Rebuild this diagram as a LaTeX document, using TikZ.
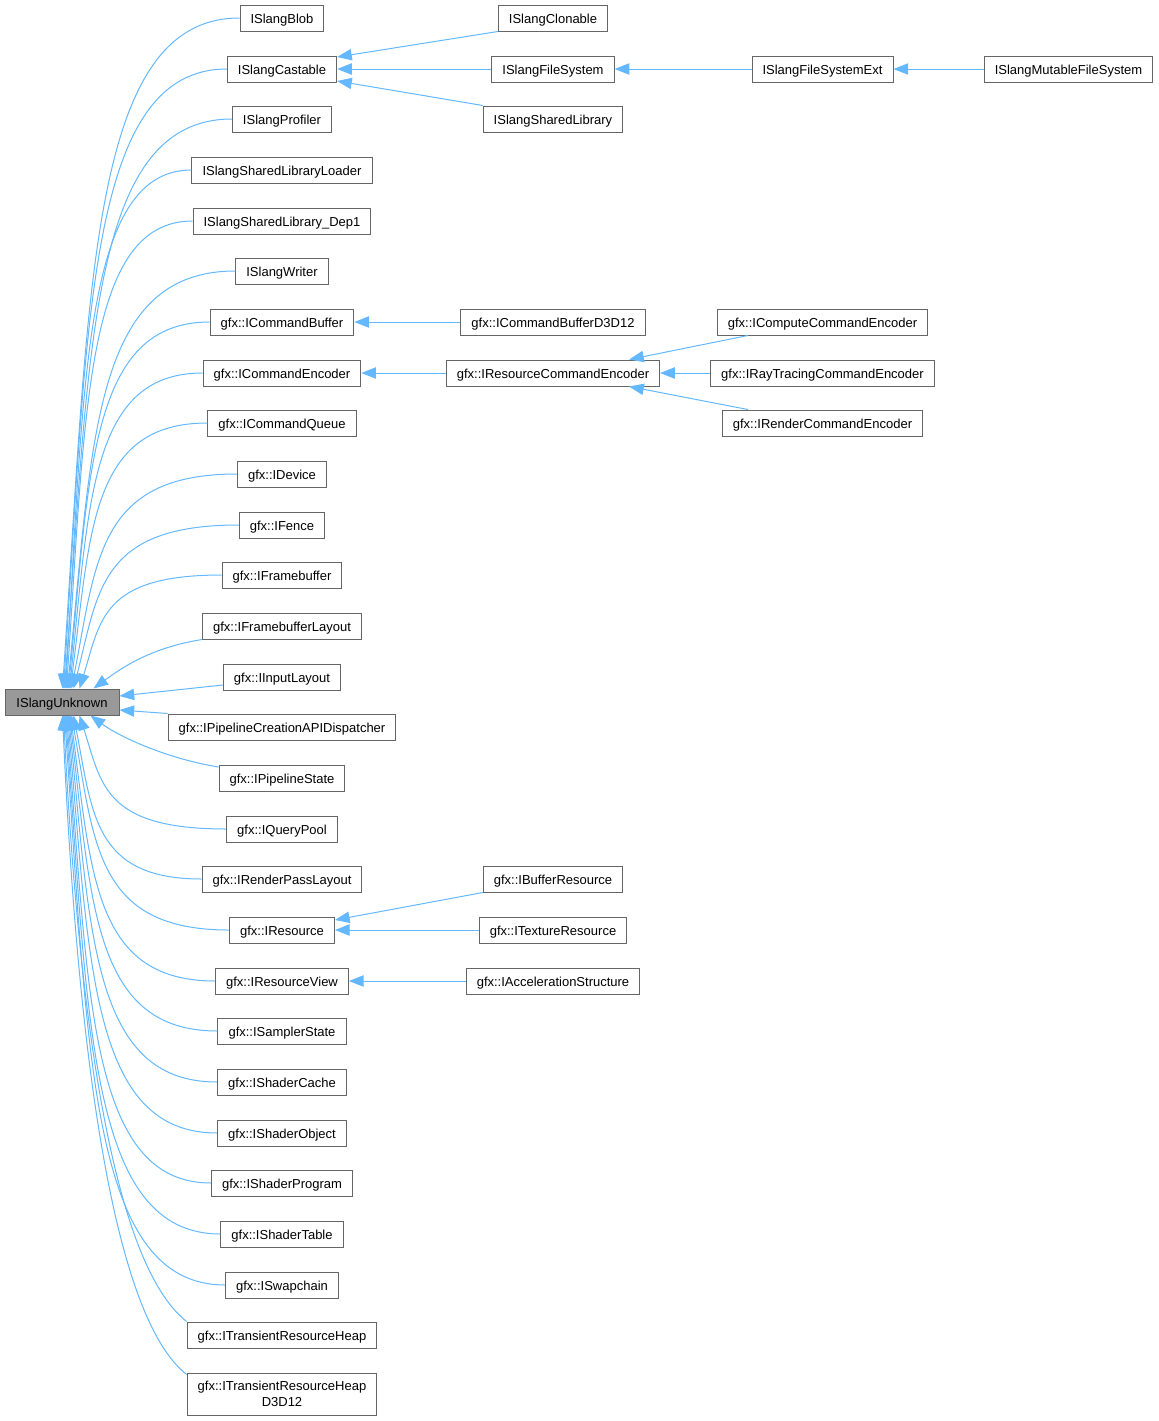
\documentclass[tikz,border=0pt]{standalone}
\usepackage{fontspec}
\setmainfont{Liberation Sans}
\usetikzlibrary{arrows.meta,calc}
\definecolor{edgeblue}{HTML}{63B8FF}
\definecolor{boxborder}{HTML}{666666}
\definecolor{basefill}{HTML}{999999}
\begin{document}
\begin{tikzpicture}[x=0.75pt,y=-0.75pt,
  cls/.style={draw=boxborder,line width=0.75pt,fill=white,minimum height=19.5pt,
    inner xsep=7.9pt,inner ysep=2pt,text height=9pt,text depth=1pt,
    font=\fontsize{9.75pt}{12pt}\selectfont,text=black},
  twoline/.style={cls,align=center,minimum height=31.5pt,text height=,text depth=},
  basecls/.style={cls,fill=basefill,minimum width=85.5pt},
  edge/.style={draw=edgeblue,line width=0.75pt,
    -{Triangle[length=11pt,width=8.5pt,fill=edgeblue]}}]
\useasboundingbox (0,0) rectangle (1159,1421);

% base
\node[basecls] (u) at (62,702) {ISlangUnknown};

% left column
\node[cls] (blob)    at (282,18)   {ISlangBlob};
\node[cls] (cast)    at (282,69)   {ISlangCastable};
\node[cls] (prof)    at (282,119)  {ISlangProfiler};
\node[cls] (loader)  at (282,170)  {ISlangSharedLibraryLoader};
\node[cls] (dep1)    at (282,221)  {ISlangSharedLibrary\_Dep1};
\node[cls] (writer)  at (282,271)  {ISlangWriter};
\node[cls] (cmdbuf)  at (282,322)  {gfx::ICommandBuffer};
\node[cls] (cmdenc)  at (282,373)  {gfx::ICommandEncoder};
\node[cls] (cmdq)    at (282,423)  {gfx::ICommandQueue};
\node[cls] (device)  at (282,474)  {gfx::IDevice};
\node[cls] (fence)   at (282,525)  {gfx::IFence};
\node[cls] (fb)      at (282,575)  {gfx::IFramebuffer};
\node[cls] (fbl)     at (282,626)  {gfx::IFramebufferLayout};
\node[cls] (input)   at (282,677)  {gfx::IInputLayout};
\node[cls] (pcreate) at (282,727)  {gfx::IPipelineCreationAPIDispatcher};
\node[cls] (pstate)  at (282,778)  {gfx::IPipelineState};
\node[cls] (qpool)   at (282,829)  {gfx::IQueryPool};
\node[cls] (rpl)     at (282,879)  {gfx::IRenderPassLayout};
\node[cls] (res)     at (282,930)  {gfx::IResource};
\node[cls] (resview) at (282,981)  {gfx::IResourceView};
\node[cls] (sampler) at (282,1031) {gfx::ISamplerState};
\node[cls] (shcache) at (282,1082) {gfx::IShaderCache};
\node[cls] (shobj)   at (282,1133) {gfx::IShaderObject};
\node[cls] (shprog)  at (282,1183) {gfx::IShaderProgram};
\node[cls] (shtable) at (282,1234) {gfx::IShaderTable};
\node[cls] (swap)    at (282,1285) {gfx::ISwapchain};
\node[cls] (trh)     at (282,1335) {gfx::ITransientResourceHeap};
\node[twoline] (trh12) at (282,1394)
  {gfx::ITransientResourceHeap\\D3D12};

% middle column
\node[cls] (clon)    at (553,18)  {ISlangClonable};
\node[cls] (fs)      at (553,69)  {ISlangFileSystem};
\node[cls] (shlib)   at (553,119) {ISlangSharedLibrary};
\node[cls] (cbd12)   at (553,322) {gfx::ICommandBufferD3D12};
\node[cls] (rce)     at (553,373) {gfx::IResourceCommandEncoder};
\node[cls] (bufres)  at (553,879) {gfx::IBufferResource};
\node[cls] (texres)  at (553,930) {gfx::ITextureResource};
\node[cls] (accel)   at (553,981) {gfx::IAccelerationStructure};

% right columns
\node[cls] (fsext)   at (822.5,69)  {ISlangFileSystemExt};
\node[cls] (compute) at (822.5,322) {gfx::IComputeCommandEncoder};
\node[cls] (raytr)   at (822.5,373) {gfx::IRayTracingCommandEncoder};
\node[cls] (render)  at (822.5,423) {gfx::IRenderCommandEncoder};
\node[cls] (mfs)     at (1068.5,69) {ISlangMutableFileSystem};

% edges to ISlangUnknown (from above)
\draw[edge] (blob.west)    .. controls +(-150,0) and +(27,-403) .. ($(u.north west)+(58,0)$);
\draw[edge] (cast.west)    .. controls +(-139,0) and +(24,-372) .. ($(u.north west)+(59,0)$);
\draw[edge] (prof.west)    .. controls +(-142,0) and +(25,-342) .. ($(u.north west)+(60,0)$);
\draw[edge] (loader.west)  .. controls +(-108,0) and +(19,-311) .. ($(u.north west)+(61,0)$);
\draw[edge] (dep1.west)    .. controls +(-107,0) and +(19,-281) .. ($(u.north west)+(62,0)$);
\draw[edge] (writer.west)  .. controls +(-142,0) and +(25,-251) .. ($(u.north west)+(63,0)$);
\draw[edge] (cmdbuf.west)  .. controls +(-119,0) and +(21,-220) .. ($(u.north west)+(64,0)$);
\draw[edge] (cmdenc.west)  .. controls +(-112,0) and +(20,-190) .. ($(u.north west)+(65,0)$);
\draw[edge] (cmdq.west)    .. controls +(-116,0) and +(20,-160) .. ($(u.north west)+(66,0)$);
\draw[edge] (device.west)  .. controls +(-139,0) and +(25,-129) .. ($(u.north west)+(67,0)$);
\draw[edge] (fence.west)   .. controls +(-139,0) and +(25,-98)  .. ($(u.north west)+(69,0)$);
\draw[edge] (fb.west)      .. controls +(-120,0) and +(21,-68)  .. ($(u.north west)+(75,0)$);
\draw[edge] (fbl.south west) .. controls +(-50,8) and +(30,-22) .. ($(u.north west)+(89,0)$);
\draw[edge] ($(input.west)+(0,8)$) -- ($(u.east)+(0,-6)$);
% edges to ISlangUnknown (from below)
\draw[edge] (pcreate.north west) -- ($(u.east)+(0,8)$);
\draw[edge] ($(pstate.west)+(0,-11)$) .. controls +(-50,-8) and +(30,22) .. ($(u.south west)+(86,0)$);
\draw[edge] (qpool.west)   .. controls +(-123,0) and +(22,68)  .. ($(u.south west)+(75,0)$);
\draw[edge] (rpl.west)     .. controls +(-108,0) and +(19,98)  .. ($(u.south west)+(69,0)$);
\draw[edge] (res.west)     .. controls +(-133,0) and +(23,129) .. ($(u.south west)+(67,0)$);
\draw[edge] (resview.west) .. controls +(-121,0) and +(21,160) .. ($(u.south west)+(66,0)$);
\draw[edge] (sampler.west) .. controls +(-124,0) and +(22,190) .. ($(u.south west)+(65,0)$);
\draw[edge] (shcache.west) .. controls +(-125,0) and +(22,220) .. ($(u.south west)+(64,0)$);
\draw[edge] (shobj.west)   .. controls +(-126,0) and +(22,251) .. ($(u.south west)+(63,0)$);
\draw[edge] (shprog.west)  .. controls +(-122,0) and +(22,281) .. ($(u.south west)+(62,0)$);
\draw[edge] (shtable.west) .. controls +(-131,0) and +(23,311) .. ($(u.south west)+(61,0)$);
\draw[edge] (swap.west)    .. controls +(-135,0) and +(24,342) .. ($(u.south west)+(60,0)$);
\draw[edge] (trh.north west)   .. controls +(-64,-50) and +(18,360) .. ($(u.south west)+(59,0)$);
\draw[edge] ($(trh12.north west)+(0,2)$) .. controls +(-64,-50) and +(18,400) .. ($(u.south west)+(58,0)$);

% other inheritance edges
\draw[edge] (clon.south west) -- ($(cast.east)+(0,-12)$);
\draw[edge] (fs.west) -- (cast.east);
\draw[edge] (shlib.north west) -- ($(cast.east)+(0,12)$);
\draw[edge] (fsext.west) -- (fs.east);
\draw[edge] (mfs.west) -- (fsext.east);
\draw[edge] (cbd12.west) -- (cmdbuf.east);
\draw[edge] (rce.west) -- (cmdenc.east);
\draw[edge] ($(compute.south west)+(31,0)$) -- ($(rce.north east)+(-31,0)$);
\draw[edge] (raytr.west) -- (rce.east);
\draw[edge] ($(render.north west)+(26,0)$) -- ($(rce.south east)+(-31,0)$);
\draw[edge] (bufres.south west) -- ($(res.east)+(0,-10)$);
\draw[edge] (texres.west) -- (res.east);
\draw[edge] (accel.west) -- (resview.east);
\end{tikzpicture}
\end{document}
